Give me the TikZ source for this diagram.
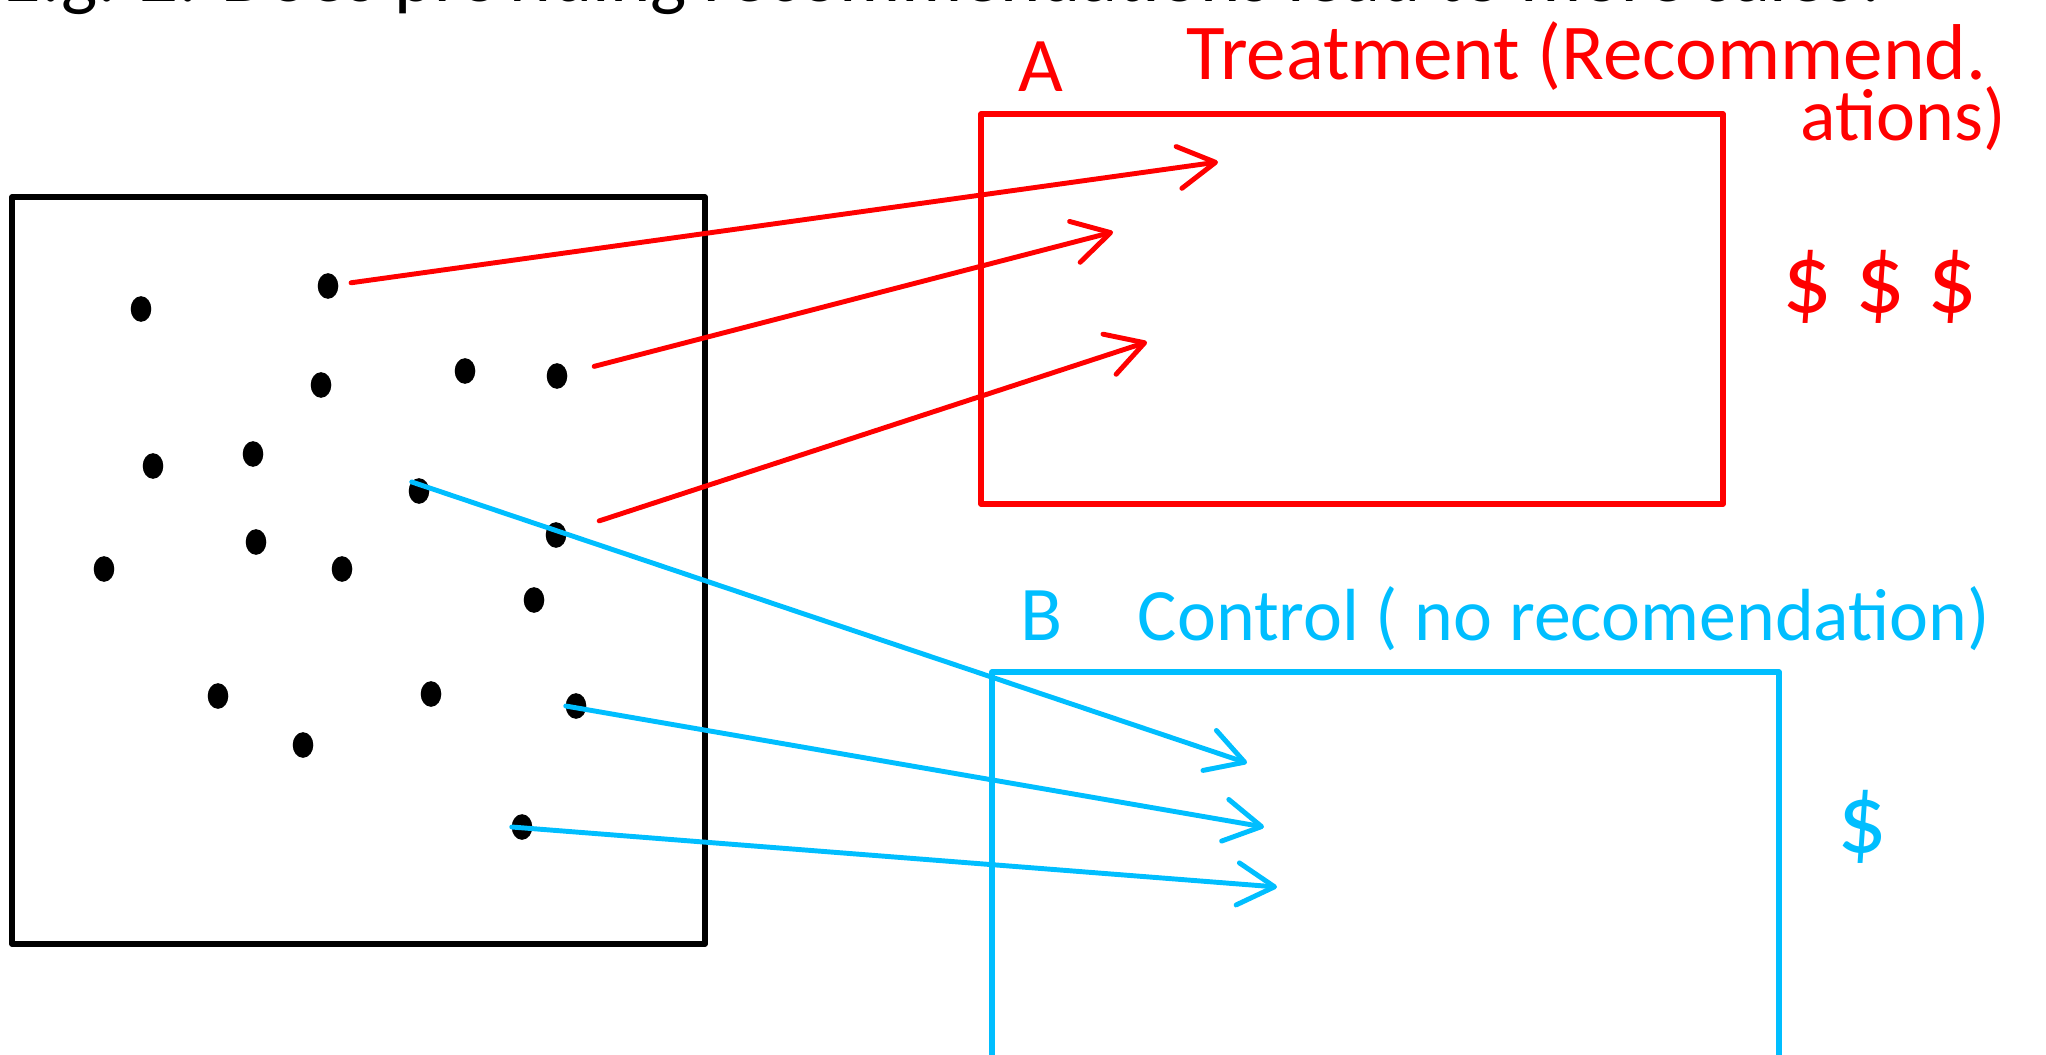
\documentclass[tikz,border=0pt]{standalone}
\usepackage{fontspec}
\setmainfont{Carlito}
\usepackage{xcolor}
\usetikzlibrary{arrows.meta}
\usetikzlibrary{shapes.geometric}

\definecolor{treatred}{RGB}{255,0,0}
\definecolor{ctrlblue}{RGB}{0,190,255}

\begin{document}
\begin{tikzpicture}[x=0.01cm, y=-0.01cm,
				dot/.style={ellipse, draw, fill=black, line width=1pt, inner sep=0pt,
						minimum width=0.17cm, minimum height=0.22cm},
				frame/.style={line width=1.6pt, line join=round},
				ink/.style={line width=1.4pt, line cap=round,
						-{Straight Barb[length=10.5pt, width=12pt, round]}},
				hand/.style={inner sep=0pt, anchor=base west,
						font=\fontsize{21}{25}\selectfont}
			]
			\useasboundingbox (0,0) rectangle (2046,1055);
			\clip (0,0) rectangle (2046,1055);

			% Question, cut at the top edge
			\node[anchor=base west, inner sep=0pt, font=\fontsize{21.8}{26}\selectfont] (title) at (3,2)
				{E.g. 2. Does providing recommendations lead to more sales?};

			% Population with its members
			\draw[frame] (12,197) rectangle (705,944);
			\foreach \n/\x/\y in {d1/141/309, d2/328/286, d3/321/385, d4/465/371,
					d5/557/376, d6/153/466, d7/253/454, d8/419/491, d9/256/542,
					d10/104/569, d11/342/569, d12/556/535, d13/534/600, d14/218/696,
					d15/431/694, d16/576/706, d17/303/745, d18/522/827}
				\node[dot] (\n) at (\x,\y) {};

			% Group A
			\draw[frame, treatred] (981,114) rectangle (1723,504);
			\node[hand, treatred, font=\fontsize{22}{26}\selectfont] (labelA) at (1018,92) {A};
			\node[hand, treatred, font=\fontsize{22.5}{26}\selectfont] (treatment) at (1186,80) {Treatment (Recommend.};
			\node[hand, treatred] (treatmentend) at (1800,141) {ations)};
			\node[inner sep=0pt, anchor=base, treatred, font=\fontsize{28}{32}\selectfont] (dollarsA) at (1880,313) {\$ \$ \$};

			% Group B
			\draw[frame, ctrlblue] (992,672) rectangle (1779,1080);
			\node[hand, ctrlblue, font=\fontsize{22}{26}\selectfont] (labelB) at (1020,640) {B};
			\node[hand, ctrlblue] (control) at (1137,640) {Control ( no recomendation)};
			\node[inner sep=0pt, anchor=base, ctrlblue, font=\fontsize{28}{32}\selectfont] (dollarB) at (1862,852) {\$};

			% Arrow ends
			\coordinate (tR1) at (1218,162);
			\coordinate (tR2) at (1113,232);
			\coordinate (tR3) at (1147,342);
			\coordinate (tB1) at (1247,763);
			\coordinate (tB2) at (1264,827);
			\coordinate (tB3) at (1277,887);

			% Assignment arrows
			\draw[ink, treatred, shorten <=0.13cm] (d2) -- (tR1);
			\draw[ink, treatred, shorten <=0.28cm] (d5) -- (tR2);
			\draw[ink, treatred, shorten <=0.35cm] (d12) -- (tR3);
			\draw[ink, ctrlblue] (d8.north west) -- (tB1);
			\draw[ink, ctrlblue] (d16.west) -- (tB2);
			\draw[ink, ctrlblue] (d18.west) -- (tB3);

		\end{tikzpicture}
\end{document}
